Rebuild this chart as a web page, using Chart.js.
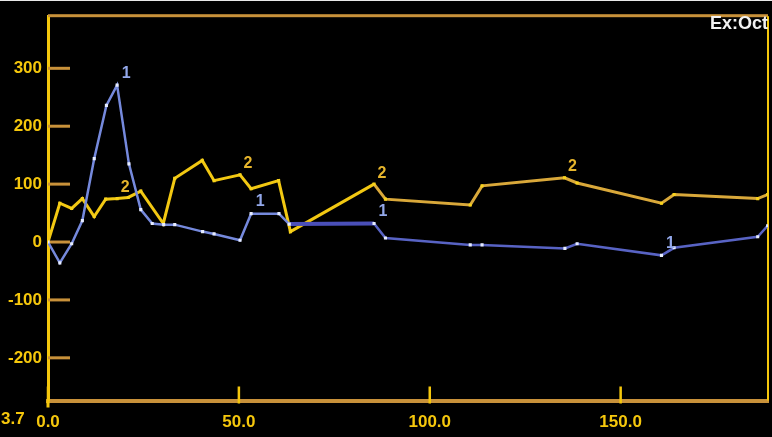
<!DOCTYPE html>
<html>
<head>
<meta charset="utf-8">
<script src="https://cdn.jsdelivr.net/npm/chart.js@4"></script>
<style>
  html, body { margin: 0; padding: 0; background: #000; }
  #wrap { width: 772px; height: 437px; }
</style>
</head>
<body>
<div id="wrap"><canvas id="chart" width="772" height="437"></canvas></div>
<script>
// Series 1 (blue) and series 2 (yellow)
const s1X = [0, 3.1, 6.2, 9.0, 12.1, 15.3, 18.1, 21.2, 24.3, 27.3, 30.3, 33.2, 40.5, 43.5, 50.3, 53.2, 60.5, 63.2, 85.4, 88.4, 110.6, 113.7, 135.4, 138.6, 160.7, 164.0, 185.9, 188.5];
const s1Y = [0, -36, -3, 37, 144, 236, 271, 135, 56, 32, 30, 30, 18, 14, 3, 49, 49, 31, 32, 7, -5, -5, -11, -3, -23, -10, 9, 28];
const s2X = [0, 3.1, 6.2, 9.0, 12.1, 15.1, 18.1, 21.0, 24.3, 30.2, 33.2, 40.4, 43.5, 50.3, 53.2, 60.4, 63.5, 85.4, 88.4, 110.6, 113.7, 135.3, 138.6, 160.7, 164.0, 185.9, 188.5];
const s2Y = [0, 67, 58, 75, 44, 74, 75, 77, 88, 32, 110, 141, 106, 116, 92, 106, 18, 100, 74, 64, 97, 111, 102, 67, 82, 75, 82];

// points that carry the series number
const s1LabelIdx = [6, 15, 18, 24];
const s2LabelIdx = [6, 13, 17, 21];

const xTicks = [0, 50, 100, 150];
const yTicks = [-200, -100, 0, 100, 200, 300];
const X_MIN = 0, X_MAX = 188.6;
const Y_MIN = -273.7, Y_MAX = 390;
const cornerText = 'Ex:Oct';
const minLabel = '3.7';

const YELLOW = '#f5c70c';
const TAN = '#c8913a';
const FAMILY = '"Liberation Sans", Arial, sans-serif';

const toPoints = (xs, ys) => xs.map((x, i) => ({ x: x, y: ys[i] }));

// frame, inward tick marks, series numbers and stray texts
const decorPlugin = {
    id: 'decor',
    beforeDatasetsDraw(chart) {
        const { ctx, chartArea: a, scales } = chart;
        ctx.save();
        // top border (tan) and right border (yellow)
        ctx.fillStyle = TAN;
        ctx.fillRect(a.left, a.top - 2, a.right - a.left, 3);
        ctx.fillStyle = YELLOW;
        ctx.fillRect(a.right - 1, a.top, 2, a.bottom - a.top);
        // left axis runs a little below the bottom axis
        ctx.fillRect(a.left - 1.5, a.bottom, 3, 7);
        // inward y tick marks
        ctx.fillStyle = TAN;
        yTicks.forEach(v => {
            const py = scales.y.getPixelForValue(v);
            ctx.fillRect(a.left, py - 1.5, 22, 3);
        });
        // x tick marks crossing the axis
        ctx.fillStyle = YELLOW;
        xTicks.forEach(v => {
            const px = scales.x.getPixelForValue(v);
            ctx.fillRect(px - 1.25, a.bottom - 14, 2.5, 17);
        });
        ctx.restore();
    },
    afterDatasetsDraw(chart) {
        const { ctx, chartArea: a } = chart;
        ctx.save();
        ctx.font = 'bold 16px ' + FAMILY;
        ctx.textAlign = 'center';
        ctx.textBaseline = 'middle';
        const m1 = chart.getDatasetMeta(0).data;
        const m2 = chart.getDatasetMeta(1).data;
        ctx.fillStyle = '#93a8ea';
        s1LabelIdx.forEach(i => ctx.fillText('1', m1[i].x + 9, m1[i].y - 12));
        ctx.fillStyle = '#e6b52c';
        s2LabelIdx.forEach(i => ctx.fillText('2', m2[i].x + 8, m2[i].y - 11));

        // corner text
        ctx.fillStyle = '#f2f2f2';
        ctx.textAlign = 'right';
        ctx.font = 'bold 18px ' + FAMILY;
        ctx.fillText(cornerText, a.right, 24);

        // clipped min label of the y axis
        ctx.fillStyle = YELLOW;
        ctx.textAlign = 'left';
        ctx.font = 'bold 17px ' + FAMILY;
        ctx.fillText(minLabel, 1, 419);

        // thin white strip on the top edge
        ctx.fillStyle = '#e8e8e8';
        ctx.fillRect(0, 0, chart.width, 1);
        ctx.restore();
    }
};

new Chart(document.getElementById('chart'), {
    type: 'line',
    data: {
        datasets: [
            {
                label: '1',
                data: toPoints(s1X, s1Y),
                borderColor: '#6f84d8',
                borderWidth: 2.5,
                pointStyle: 'rect',
                pointRadius: 2.2,
                pointBackgroundColor: '#e6ecff',
                pointBorderWidth: 0,
                tension: 0,
                segment: {
                    borderColor: c => c.p0.parsed.x >= 63 && c.p0.parsed.x < 85 ? '#4a4fb8' : (c.p0.parsed.x >= 85 ? '#5863c4' : '#7589dc'),
                    borderWidth: c => c.p0.parsed.x >= 63 && c.p0.parsed.x < 85 ? 4 : 2.5
                }
            },
            {
                label: '2',
                data: toPoints(s2X, s2Y),
                borderColor: '#f2c812',
                borderWidth: 3,
                pointStyle: 'rect',
                pointRadius: 2.2,
                pointBackgroundColor: '#f7d21c',
                pointBorderWidth: 0,
                tension: 0,
                segment: {
                    borderColor: c => c.p0.parsed.x >= 85 ? '#d9a83a' : '#f2c812'
                }
            }
        ]
    },
    options: {
        responsive: false,
        devicePixelRatio: 1,
        animation: false,
        layout: { padding: { top: 13, right: 1.5, left: 0, bottom: 0 } },
        plugins: {
            legend: { display: false },
            tooltip: { enabled: false }
        },
        scales: {
            x: {
                type: 'linear',
                min: X_MIN,
                max: X_MAX,
                afterFit: s => { s.height = 36.5; },
                afterBuildTicks: s => { s.ticks = xTicks.map(v => ({ value: v })); },
                grid: { display: false, drawTicks: false },
                border: { display: true, color: TAN, width: 4 },
                ticks: {
                    color: YELLOW,
                    font: { family: FAMILY, size: 17, weight: 'bold' },
                    padding: 12,
                    maxRotation: 0,
                    callback: v => v.toFixed(1)
                }
            },
            y: {
                type: 'linear',
                min: Y_MIN,
                max: Y_MAX,
                afterFit: s => { s.width = 48; },
                afterBuildTicks: s => { s.ticks = yTicks.map(v => ({ value: v })); },
                grid: { display: false, drawTicks: false },
                border: { display: true, color: YELLOW, width: 3 },
                ticks: {
                    color: YELLOW,
                    font: { family: FAMILY, size: 17, weight: 'bold' },
                    padding: 6
                }
            }
        }
    },
    plugins: [decorPlugin]
});
</script>
</body>
</html>
